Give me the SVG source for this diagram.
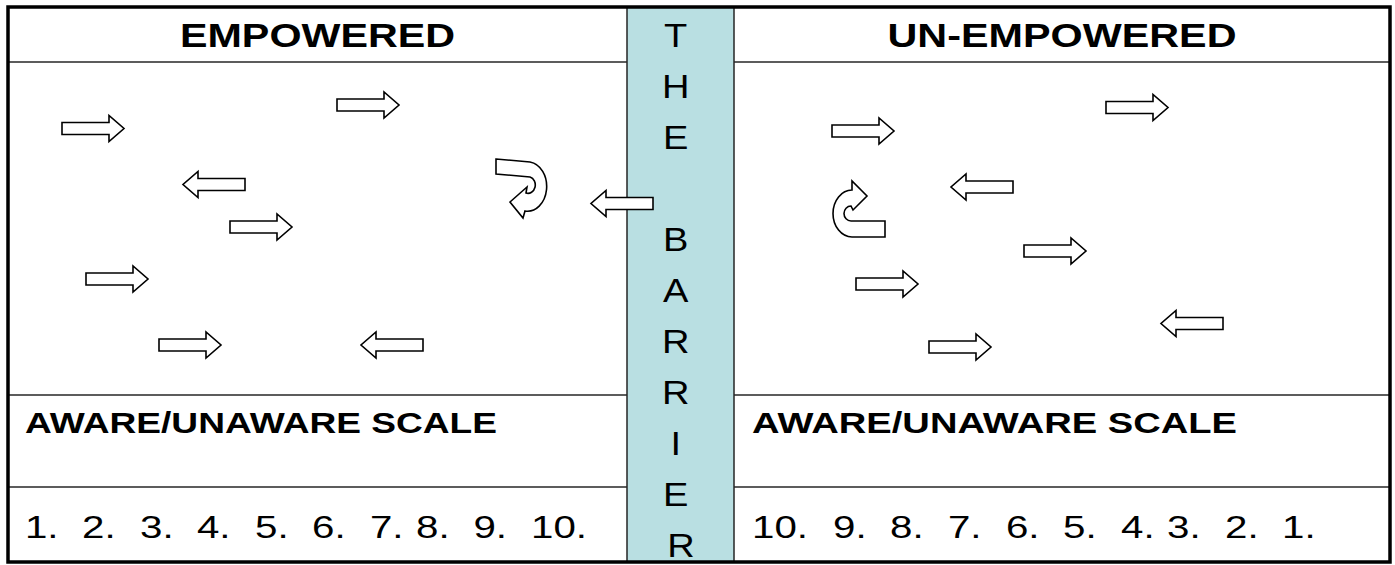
<svg xmlns="http://www.w3.org/2000/svg" width="1395" height="565" viewBox="0 0 1395 565">
<style>
.t{font-family:"Liberation Sans",Arial,sans-serif;fill:#000}
.b{font-weight:bold}
.grid{stroke:#262626;stroke-width:1.5;fill:none}
.arr{fill:#fff;stroke:#000;stroke-width:1.6;stroke-linejoin:miter}
</style>
<defs>
<path id="ra" d="M0,-6 H47 V-13 L62,0 L47,13 V6 H0 Z"/>
<path id="la" d="M62,-6 H15 V-13 L0,0 L15,13 V6 H62 Z"/>
</defs>
<rect x="0" y="0" width="1395" height="565" fill="#fff"/>
<g id="barrier">
<rect x="627" y="7" width="107" height="555" fill="#b9dfe2" stroke="#262626" stroke-width="1.5"/>
<text class="t" font-size="34" text-anchor="middle" transform="translate(681,0) scale(1.12,1)">
<tspan x="0" y="47.5">T</tspan>
<tspan x="0" y="98.5">H</tspan>
<tspan x="0" y="149.5">E</tspan>
<tspan x="0" y="251.5">B</tspan>
<tspan x="0" y="302.5">A</tspan>
<tspan x="0" y="353.5">R</tspan>
<tspan x="0" y="404.5">R</tspan>
<tspan x="0" y="455.5">I</tspan>
<tspan x="0" y="506.5">E</tspan>
<tspan x="0" y="557.5">R</tspan>
</text>
</g>
<g id="grid">
<line class="grid" x1="8" y1="62" x2="627" y2="62"/>
<line class="grid" x1="734" y1="62" x2="1390" y2="62"/>
<line class="grid" x1="8" y1="395" x2="627" y2="395"/>
<line class="grid" x1="734" y1="395" x2="1390" y2="395"/>
<line class="grid" x1="8" y1="487" x2="627" y2="487"/>
<line class="grid" x1="734" y1="487" x2="1390" y2="487"/>
</g>
<rect x="8" y="7" width="1382" height="555" fill="none" stroke="#000" stroke-width="3.5"/>
<g id="empowered">
<text class="t b" x="317.5" y="47" font-size="33" text-anchor="middle" textLength="275" lengthAdjust="spacingAndGlyphs">EMPOWERED</text>
<text class="t b" x="25" y="433" font-size="29" textLength="472" lengthAdjust="spacingAndGlyphs">AWARE/UNAWARE SCALE</text>
<text class="t" font-size="31" transform="translate(0,538) scale(1.3,1)">
<tspan x="19.2">1.</tspan><tspan x="63.1">2.</tspan><tspan x="107.7">3.</tspan><tspan x="151.5">4.</tspan><tspan x="196.2">5.</tspan><tspan x="240">6.</tspan><tspan x="284.6">7.</tspan><tspan x="320">8.</tspan><tspan x="364.2">9.</tspan><tspan x="408.5">10.</tspan>
</text>
</g>
<g id="unempowered">
<text class="t b" x="1062" y="47" font-size="33" text-anchor="middle" textLength="349" lengthAdjust="spacingAndGlyphs">UN-EMPOWERED</text>
<text class="t b" x="752" y="433" font-size="29" textLength="485" lengthAdjust="spacingAndGlyphs">AWARE/UNAWARE SCALE</text>
<text class="t" font-size="31" transform="translate(0,538) scale(1.3,1)">
<tspan x="578.5">10.</tspan><tspan x="640.8">9.</tspan><tspan x="684.6">8.</tspan><tspan x="729.2">7.</tspan><tspan x="773.8">6.</tspan><tspan x="817.7">5.</tspan><tspan x="862.3">4.</tspan><tspan x="897.7">3.</tspan><tspan x="942.3">2.</tspan><tspan x="986.2">1.</tspan>
</text>
</g>
<g id="arrows-empowered">
<use href="#ra" class="arr" x="62" y="128.5"/>
<use href="#ra" class="arr" x="337" y="105"/>
<use href="#la" class="arr" x="183" y="184.5"/>
<use href="#ra" class="arr" x="230" y="227"/>
<use href="#ra" class="arr" x="86" y="279"/>
<use href="#ra" class="arr" x="159" y="345"/>
<use href="#la" class="arr" x="361" y="345"/>
<path class="arr" d="M496,159 L530,162 A19,24.5 0 0 1 525,211 L523,218 L510,202 L527,187 L526,193 A7,8 0 0 0 530,177 L496,174 Z"/>
</g>
<g id="arrows-unempowered">
<use href="#ra" class="arr" x="832" y="131"/>
<use href="#ra" class="arr" x="1106" y="107.5"/>
<use href="#la" class="arr" x="951" y="187"/>
<use href="#ra" class="arr" x="1024" y="251"/>
<use href="#ra" class="arr" x="856" y="284"/>
<use href="#la" class="arr" x="1161" y="323.5"/>
<use href="#ra" class="arr" x="929" y="347"/>
<path class="arr" d="M885,221 L885,237 L852,237 A19,23.5 0 0 1 852,190 L852,181 L867,196 L853,210 L851,206 A7,7.5 0 0 0 851,221 Z"/>
</g>
<g id="connectors">
<use href="#la" class="arr" x="591" y="203.5"/>
</g>
</svg>
